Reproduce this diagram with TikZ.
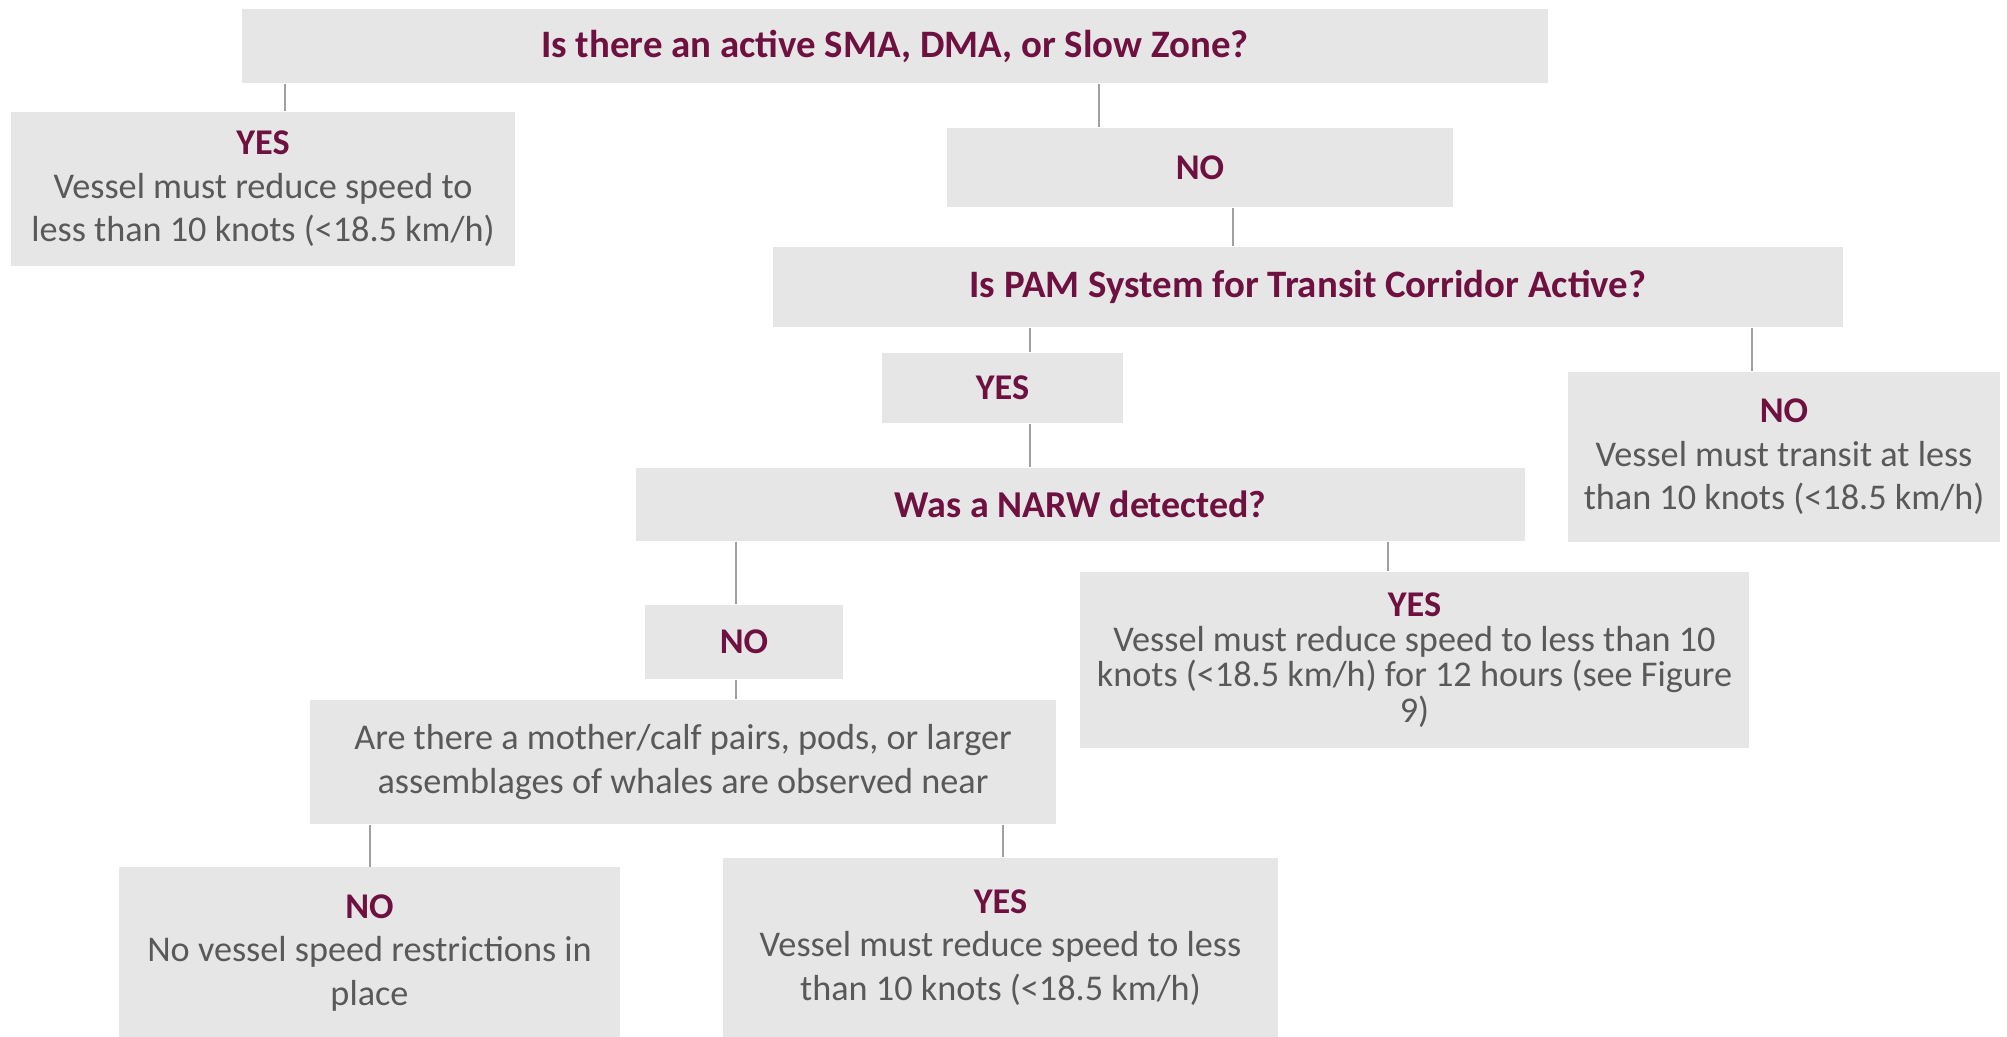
\documentclass[tikz,border=0pt]{standalone}
\usepackage{fontspec}
\setmainfont{Carlito}
\definecolor{boxfill}{HTML}{E6E6E6}
\definecolor{hd}{HTML}{6E1141}
\definecolor{bodytxt}{HTML}{595959}
\definecolor{linec}{HTML}{A0A0A0}
\tikzset{
  box/.style={fill=boxfill, draw=none, inner sep=0pt, align=center, text=bodytxt,
    font=\fontsize{10.3}{12.4}\selectfont},
  q/.style={font=\fontsize{10.3}{12.4}\selectfont\bfseries, text=hd},
  bigq/.style={font=\fontsize{11.05}{12.4}\selectfont\bfseries, text=hd},
  conn/.style={draw=linec, line width=0.4pt},
}
\newcommand{\hdtext}[1]{{\color{hd}\bfseries #1}}
\begin{document}
\begin{tikzpicture}[x=0.01cm, y=-0.01cm]
\fill[white] (0,0) rectangle (2007,1037);
\useasboundingbox (0,0) rectangle (2007,1037);

\node[box,bigq, minimum width=13.06cm, minimum height=0.74cm] (top) at (895,46) {Is there an active SMA, DMA, or Slow Zone?};
\node[box, minimum width=5.04cm, minimum height=1.54cm] (yesL) at (263,189) {\hdtext{YES}\\Vessel must reduce speed to\\less than 10 knots (<18.5 km/h)};
\node[box,q, minimum width=5.06cm, minimum height=0.79cm] (no1) at (1200,167.5) {NO};
\node[box,bigq, minimum width=10.70cm, minimum height=0.80cm] (pam) at (1308,287) {Is PAM System for Transit Corridor Active?};
\node[box,q, minimum width=2.41cm, minimum height=0.70cm] (yes2) at (1002.5,388) {YES};
\node[box, minimum width=4.32cm, minimum height=1.70cm] (noR) at (1784,457) {\hdtext{NO}\\Vessel must transit at less\\than 10 knots (<18.5 km/h)};
\node[box,q, font=\fontsize{10.8}{12.4}\selectfont\bfseries, minimum width=8.89cm, minimum height=0.73cm] (narw) at (1080.5,504.5) {Was a NARW detected?};
\node[box, minimum width=6.69cm, minimum height=1.76cm, font=\fontsize{10.3}{10}\selectfont] (yesM) at (1414.5,660) {\hdtext{YES}\\Vessel must reduce speed to less than 10\\knots (<18.5 km/h) for 12 hours (see Figure\\9)};
\node[box,q, minimum width=1.98cm, minimum height=0.74cm] (no3) at (744,642) {NO};
\node[box, minimum width=7.46cm, minimum height=1.24cm] (are) at (683,762) {Are there a mother/calf pairs, pods, or larger\\assemblages of whales are observed near};
\node[box, minimum width=5.01cm, minimum height=1.71cm] (noB) at (369.5,953) {\hdtext{NO}\\No vessel speed restrictions in\\place};
\node[box, minimum width=5.55cm, minimum height=1.79cm] (yesB) at (1000.5,947.5) {\hdtext{YES}\\Vessel must reduce speed to less\\than 10 knots (<18.5 km/h)};

\draw[conn] (285,0 |- top.south) -- (285,0 |- yesL.north);
\draw[conn] (1099,0 |- top.south) -- (1099,0 |- no1.north);
\draw[conn] (1233,0 |- no1.south) -- (1233,0 |- pam.north);
\draw[conn] (1030,0 |- pam.south) -- (1030,0 |- yes2.north);
\draw[conn] (1752,0 |- pam.south) -- (1752,0 |- noR.north);
\draw[conn] (1030,0 |- yes2.south) -- (1030,0 |- narw.north);
\draw[conn] (736,0 |- narw.south) -- (736,0 |- no3.north);
\draw[conn] (1388,0 |- narw.south) -- (1388,0 |- yesM.north);
\draw[conn] (736,0 |- no3.south) -- (736,0 |- are.north);
\draw[conn] (370,0 |- are.south) -- (370,0 |- noB.north);
\draw[conn] (1003,0 |- are.south) -- (1003,0 |- yesB.north);
\end{tikzpicture}
\end{document}
